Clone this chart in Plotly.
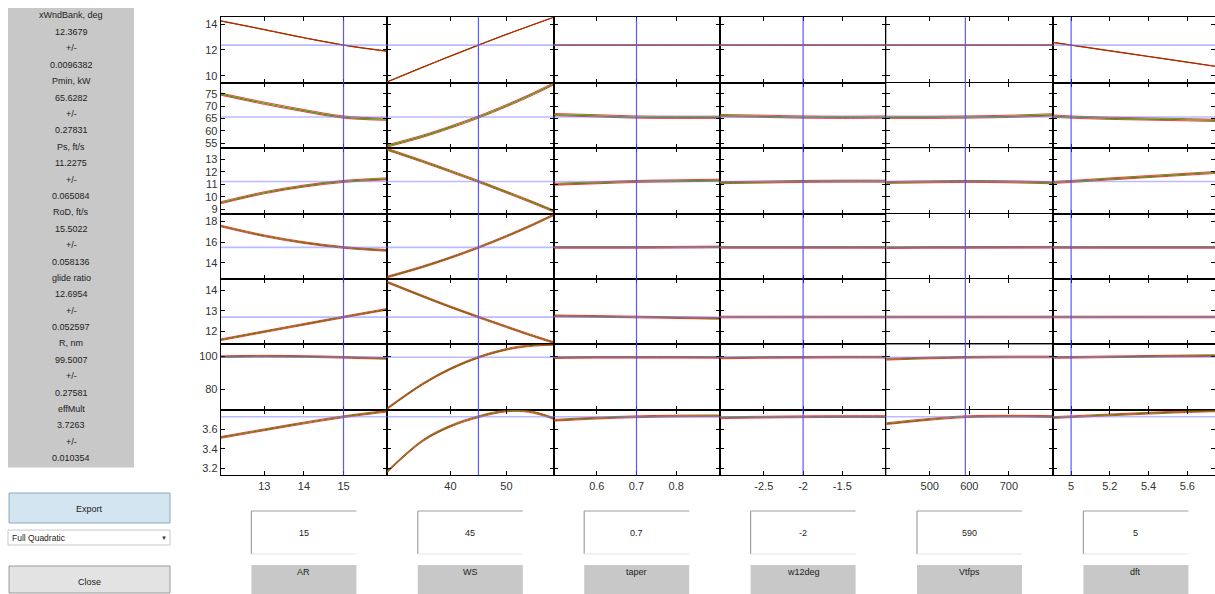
import plotly.graph_objects as go

W, H = 1215, 594

# ---------------- data ----------------
factor_names = ["AR", "WS", "taper", "w12deg", "Vtfps", "dft"]
factor_values = [15, 45, 0.7, -2, 590, 5]
factor_value_text = ["15", "45", "0.7", "-2", "590", "5"]

response_names = ["xWndBank, deg", "Pmin, kW", "Ps, ft/s", "RoD, ft/s", "glide ratio", "R, nm", "effMult"]
response_pred = [12.3679, 65.6282, 11.2275, 15.5022, 12.6954, 99.5007, 3.7263]
response_pred_text = ["12.3679", "65.6282", "11.2275", "15.5022", "12.6954", "99.5007", "3.7263"]
response_pm_text = ["0.0096382", "0.27831", "0.065084", "0.058136", "0.052597", "0.27581", "0.010354"]

# x sample points per factor
x_AR = [11.9, 13, 14, 15, 16.1]
x_WS = [28.7, 35, 40, 45, 50, 54, 58.4]
x_taper = [0.491, 0.6, 0.7, 0.8, 0.91]
x_w12deg = [-3.06, -2.5, -2, -1.5, -0.94]
x_Vtfps = [390, 500, 590, 700, 811]
x_dft = [4.905, 5, 5.2, 5.4, 5.6, 5.767]

# predicted responses along each factor (AR, WS, taper, w12deg, Vtfps, dft)
xWndBank = [[14.24, 13.57, 12.94, 12.37, 11.9],
            [9.52, 10.65, 11.52, 12.37, 13.2, 13.83, 14.52],
            [12.37, 12.37, 12.37, 12.37, 12.37],
            [12.37, 12.37, 12.37, 12.37, 12.37],
            [12.37, 12.37, 12.37, 12.37, 12.37],
            [12.58, 12.37, 11.93, 11.49, 11.05, 10.68]]
Pmin = [[74.9, 71.2, 68.2, 65.6, 64.7],
        [53.9, 57.8, 61.5, 65.6, 70.2, 74.2, 79.0],
        [66.6, 66.1, 65.6, 65.5, 65.5],
        [66.2, 65.9, 65.6, 65.5, 65.6],
        [65.5, 65.5, 65.6, 65.9, 66.5],
        [66.0, 65.6, 65.1, 64.8, 64.5, 64.2]]
Ps = [[9.52, 10.32, 10.86, 11.23, 11.44],
      [13.81, 12.85, 12.05, 11.23, 10.37, 9.67, 8.86],
      [11.0, 11.12, 11.23, 11.28, 11.33],
      [11.13, 11.18, 11.23, 11.25, 11.25],
      [11.15, 11.2, 11.23, 11.2, 11.12],
      [11.15, 11.23, 11.43, 11.62, 11.81, 11.97]]
RoD = [[17.58, 16.63, 15.97, 15.50, 15.21],
       [12.63, 13.62, 14.51, 15.50, 16.59, 17.53, 18.65],
       [15.5, 15.5, 15.5, 15.52, 15.55],
       [15.5, 15.5, 15.5, 15.5, 15.5],
       [15.48, 15.5, 15.5, 15.51, 15.52],
       [15.5, 15.5, 15.5, 15.5, 15.5, 15.5]]
glide = [[11.58, 11.98, 12.34, 12.70, 13.08],
         [14.42, 13.73, 13.20, 12.70, 12.22, 11.84, 11.45],
         [12.76, 12.73, 12.70, 12.67, 12.63],
         [12.7, 12.7, 12.7, 12.7, 12.7],
         [12.7, 12.7, 12.7, 12.7, 12.7],
         [12.7, 12.7, 12.7, 12.7, 12.7, 12.7]]
R_nm = [[99.9, 100.2, 100.0, 99.5, 98.8],
        [68.0, 83.0, 92.4, 99.5, 104.4, 106.6, 107.4],
        [99.3, 99.5, 99.5, 99.5, 99.4],
        [99.1, 99.4, 99.5, 99.6, 99.6],
        [98.3, 99.1, 99.5, 99.7, 99.7],
        [99.4, 99.5, 99.8, 100.1, 100.4, 100.6]]
effMult = [[3.515, 3.593, 3.662, 3.726, 3.783],
           [3.165, 3.48, 3.63, 3.726, 3.785, 3.78, 3.71],
           [3.69, 3.712, 3.726, 3.733, 3.735],
           [3.716, 3.722, 3.726, 3.728, 3.728],
           [3.655, 3.70, 3.726, 3.732, 3.728],
           [3.718, 3.726, 3.745, 3.762, 3.778, 3.788]]

# confidence half-width per response (as seen at the plotted scale)
ci_halfwidth = [0.01, 0.45, 0.08, 0.08, 0.04, 0.5, 0.009]

x_ranges = [[11.9, 16.1], [28.7, 58.4], [0.491, 0.91], [-3.06, -0.94], [390, 811], [4.905, 5.743]]
x_tickvals = [[13, 14, 15], [40, 50], [0.6, 0.7, 0.8], [-2.5, -2, -1.5], [500, 600, 700], [5, 5.2, 5.4, 5.6]]
x_ticktext = [["13", "14", "15"], ["40", "50"], ["0.6", "0.7", "0.8"], ["-2.5", "-2", "-1.5"],
              ["500", "600", "700"], ["5", "5.2", "5.4", "5.6"]]
y_ranges = [[9.46, 14.52], [53, 79.5], [8.65, 13.9], [12.44, 18.78], [11.35, 14.57], [67.2, 107.4], [3.129, 3.796]]
y_tickvals = [[10, 12, 14], [55, 60, 65, 70, 75], [9, 10, 11, 12, 13], [14, 16, 18], [12, 13, 14], [80, 100],
              [3.2, 3.4, 3.6]]
y_ticktext = [["10", "12", "14"], ["55", "60", "65", "70", "75"], ["9", "10", "11", "12", "13"],
              ["14", "16", "18"], ["12", "13", "14"], ["80", "100"], ["3.2", "3.4", "3.6"]]

x_grids = [x_AR, x_WS, x_taper, x_w12deg, x_Vtfps, x_dft]
responses = [xWndBank, Pmin, Ps, RoD, glide, R_nm, effMult]

# ---------------- layout geometry (pixels) ----------------
GRID_L, COL_W = 220.7, 166.4
GRID_T, ROW_H = 17.3, 65.43
NR, NC = 7, 6

FONT = "Liberation Sans, Arial, sans-serif"


def px(x):
    return x / W


def py(y):
    return 1 - y / H


fig = go.Figure()
layout = dict(width=W, height=H, margin=dict(l=0, r=0, t=0, b=0), autosize=False,
              paper_bgcolor="white", plot_bgcolor="white", showlegend=False)

for r in range(NR):
    for c in range(NC):
        k = r * NC + c + 1
        xs = "" if k == 1 else str(k)
        left = GRID_L + c * COL_W
        right = min(left + COL_W, W)
        top = GRID_T + r * ROW_H
        bot = top + ROW_H
        layout["xaxis" + xs] = dict(
            domain=[px(left), px(right)], anchor="y" + xs, range=x_ranges[c],
            tickvals=x_tickvals[c], ticktext=x_ticktext[c], showticklabels=(r == NR - 1),
            ticks="inside", ticklen=4, tickwidth=1, tickcolor="black",
            showline=True, linecolor="black", linewidth=1, mirror="ticks",
            showgrid=False, zeroline=False,
            tickfont=dict(family=FONT, size=11, color="#333333"))
        layout["yaxis" + xs] = dict(
            domain=[py(bot), py(top)], anchor="x" + xs, range=y_ranges[r],
            tickvals=y_tickvals[r], ticktext=y_ticktext[r], showticklabels=(c == 0),
            ticks="inside", ticklen=4, tickwidth=1, tickcolor="black",
            showline=True, linecolor="black", linewidth=1, mirror="ticks",
            showgrid=False, zeroline=False,
            tickfont=dict(family=FONT, size=11, color="#333333"))

        xv = x_grids[c]
        yv = responses[r][c]
        hw = ci_halfwidth[r]
        fig.add_trace(go.Scatter(x=xv, y=yv, mode="lines", line=dict(color="#00c000", width=1.2, shape="spline"),
                                 xaxis="x" + xs, yaxis="y" + xs, hoverinfo="skip"))
        for sgn in (1, -1):
            fig.add_trace(go.Scatter(x=xv, y=[v + sgn * hw for v in yv], mode="lines",
                                     line=dict(color="rgba(240,0,0,0.75)", width=1.0, shape="spline"),
                                     xaxis="x" + xs, yaxis="y" + xs, hoverinfo="skip"))

shapes = []
annotations = []

# reference lines
for c in range(NC):
    xs = "" if c == 0 else str(c + 1)
    shapes.append(dict(type="line", xref="x" + xs, yref="paper", x0=factor_values[c], x1=factor_values[c],
                       y0=py(GRID_T + NR * ROW_H), y1=py(GRID_T),
                       line=dict(color="rgba(60,60,255,0.85)", width=1.2), layer="above"))
for r in range(NR):
    k = r * NC + 1
    ys = "" if k == 1 else str(k)
    shapes.append(dict(type="line", xref="paper", yref="y" + ys, x0=px(GRID_L), x1=1,
                       y0=response_pred[r], y1=response_pred[r],
                       line=dict(color="rgba(120,120,255,0.5)", width=1.6), layer="above"))


def rect(x0, y0, x1, y1, fill, line=None, lw=1):
    shapes.append(dict(type="rect", xref="paper", yref="paper", x0=px(x0), x1=px(x1), y0=py(y1), y1=py(y0),
                       fillcolor=fill, line=dict(color=line or fill, width=lw if line else 0), layer="below"))


def seg(x0, y0, x1, y1, color, lw=1):
    shapes.append(dict(type="line", xref="paper", yref="paper", x0=px(x0), x1=px(x1), y0=py(y0), y1=py(y1),
                       line=dict(color=color, width=lw), layer="below"))


def text(x, y, s, size=9, xanchor="center", color="#222222"):
    annotations.append(dict(x=px(x), y=py(y), xref="paper", yref="paper", text=s, showarrow=False,
                            xanchor=xanchor, yanchor="middle",
                            font=dict(family=FONT, size=size, color=color)))


# left panel
rect(8, 8, 134, 467.5, "#c8c8c8")
y = 15.5
for r in range(NR):
    for s in [response_names[r], response_pred_text[r], "+/-", response_pm_text[r]]:
        text(71, y, s, size=9)
        y += 16.4

# buttons
rect(9, 493, 170, 523, "#d3e5f1", "#8fa9bb")
text(89.5, 508.5, "Export", size=9)
rect(8, 530, 170, 545, "white", "#c8c8c8")
text(10, 537.5, "Full Quadratic", size=8.5, xanchor="left")
text(164, 537.5, "▼", size=6, color="#333333")
rect(9, 566, 170, 593, "#e3e3e3", "#9a9a9a")
text(89.5, 581.5, "Close", size=9)

# factor edit boxes and labels
for c in range(NC):
    cx = GRID_L + (c + 0.5) * COL_W
    x0, x1 = cx - 52.5, cx + 52.5
    rect(x0, 511, x1, 554, "white")
    seg(x0, 511, x1, 511, "#a0a0a0", 1.2)
    seg(x0, 511, x0, 554, "#a0a0a0", 1.2)
    seg(x0, 554, x1, 554, "#e4e4e4", 1)
    text(cx, 532.5, factor_value_text[c], size=9)
    rect(x0, 565, x1, 600, "#c8c8c8")
    text(cx, 571.5, factor_names[c], size=9)

layout["shapes"] = shapes
layout["annotations"] = annotations
fig.update_layout(**layout)
fig.write_html("out.html", config={"displayModeBar": False},
               post_script="document.body.style.margin='0px';document.body.style.overflow='hidden';")
